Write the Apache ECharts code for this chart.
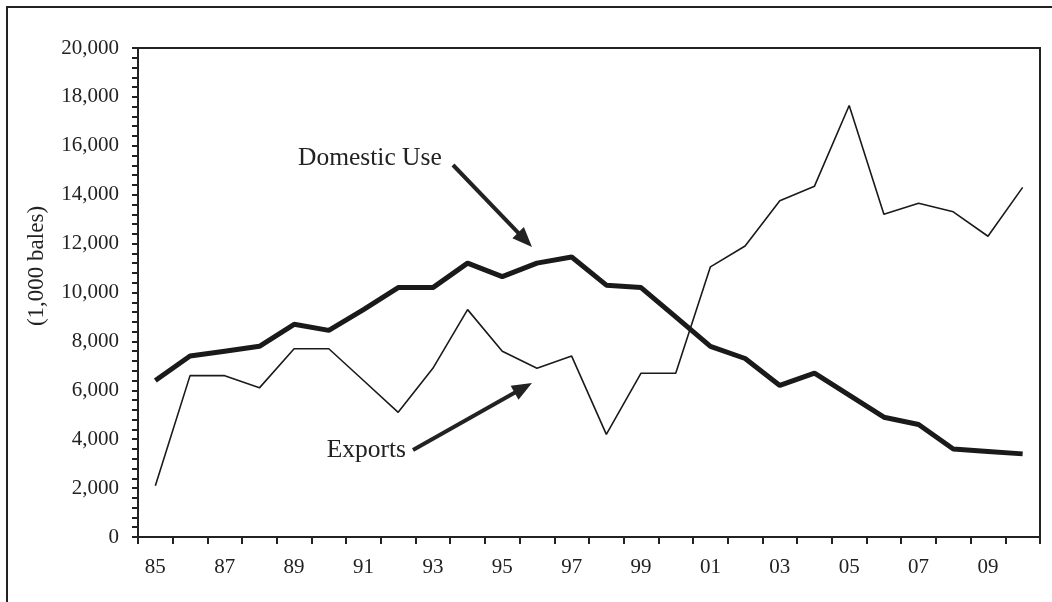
<!DOCTYPE html>
<html>
<head>
<meta charset="utf-8">
<script src="https://cdn.jsdelivr.net/npm/echarts@6/dist/echarts.min.js"></script>
<style>
html,body{margin:0;padding:0;background:#fff;}
#c{width:1052px;height:602px;}
</style>
</head>
<body>
<div id="c"></div>
<script>
const years = ['85','86','87','88','89','90','91','92','93','94','95','96','97','98','99','00','01','02','03','04','05','06','07','08','09','10'];
const domesticUse = [6400,7400,7600,7800,8700,8450,9300,10200,10200,11200,10650,11200,11450,10300,10200,9000,7800,7300,6200,6700,5800,4900,4600,3600,3500,3400];
const exportsData = [2100,6600,6600,6100,7700,7700,6400,5100,6900,9300,7600,6900,7400,4200,6700,6700,11050,11900,13750,14350,17650,13200,13650,13300,12300,14300];
const yTicks = [0,2000,4000,6000,8000,10000,12000,14000,16000,18000,20000];

const FONT = '"Liberation Serif","Times New Roman",serif';
const INK = '#222';

function arrow(x1, y1, x2, y2) {
  const L = 20, W = 8;
  const dx = x2 - x1, dy = y2 - y1, len = Math.hypot(dx, dy);
  const ux = dx / len, uy = dy / len;
  const bx = x2 - ux * L, by = y2 - uy * L;
  const px = -uy, py = ux;
  return [
    {type:'line', shape:{x1:x1, y1:y1, x2:bx + ux*2, y2:by + uy*2}, style:{stroke:INK, lineWidth:4}},
    {type:'polygon', shape:{points:[[x2,y2],[bx+px*W,by+py*W],[bx-px*W,by-py*W]]}, style:{fill:INK}}
  ];
}

const chart = echarts.init(document.getElementById('c'));
chart.setOption({
  animation:false,
  backgroundColor:'#fff',
  grid:{left:138, top:48, right:12, bottom:65, show:true, borderColor:INK, borderWidth:2, backgroundColor:'transparent'},
  xAxis:{
    type:'category', data:years, boundaryGap:true,
    axisLine:{lineStyle:{color:INK, width:2}},
    axisTick:{show:true, interval:0, length:7, lineStyle:{color:INK, width:2}},
    axisLabel:{interval:1, color:INK, fontFamily:FONT, fontSize:21, margin:20},
    splitLine:{show:false}
  },
  yAxis:{
    type:'value', min:0, max:20000, interval:2000,
    axisLine:{show:true, lineStyle:{color:INK, width:2}},
    axisTick:{show:true, length:6, lineStyle:{color:INK, width:2}},
    minorTick:{show:true, splitNumber:5, length:6, lineStyle:{color:INK, width:2}},
    axisLabel:{color:INK, fontFamily:FONT, fontSize:21, margin:19,
      formatter:v => yTicks.includes(v) ? v.toLocaleString('en-US') : ''},
    splitLine:{show:false}
  },
  series:[
    {name:'Domestic Use', type:'line', data:domesticUse, symbol:'none',
      lineStyle:{color:'#1a1a1a', width:5}, z:3},
    {name:'Exports', type:'line', data:exportsData, symbol:'none',
      lineStyle:{color:'#1a1a1a', width:1.6}, z:2}
  ],
  graphic:[
    {type:'rect', shape:{x:7, y:7, width:1200, height:800}, style:{fill:'none', stroke:INK, lineWidth:2}, silent:true},
    {type:'text', x:37, y:266, rotation:Math.PI/2,
      style:{text:'(1,000 bales)', fill:INK, font:'23px ' + FONT, textAlign:'center', textVerticalAlign:'middle'}},
    {type:'text', x:298, y:158,
      style:{text:'Domestic Use', fill:INK, font:'25.5px ' + FONT, textAlign:'left', textVerticalAlign:'middle'}},
    {type:'text', x:406, y:450,
      style:{text:'Exports', fill:INK, font:'25.5px ' + FONT, textAlign:'right', textVerticalAlign:'middle'}},
    ...arrow(453, 165, 532, 247),
    ...arrow(413, 450, 532, 383)
  ]
});
</script>
</body>
</html>
